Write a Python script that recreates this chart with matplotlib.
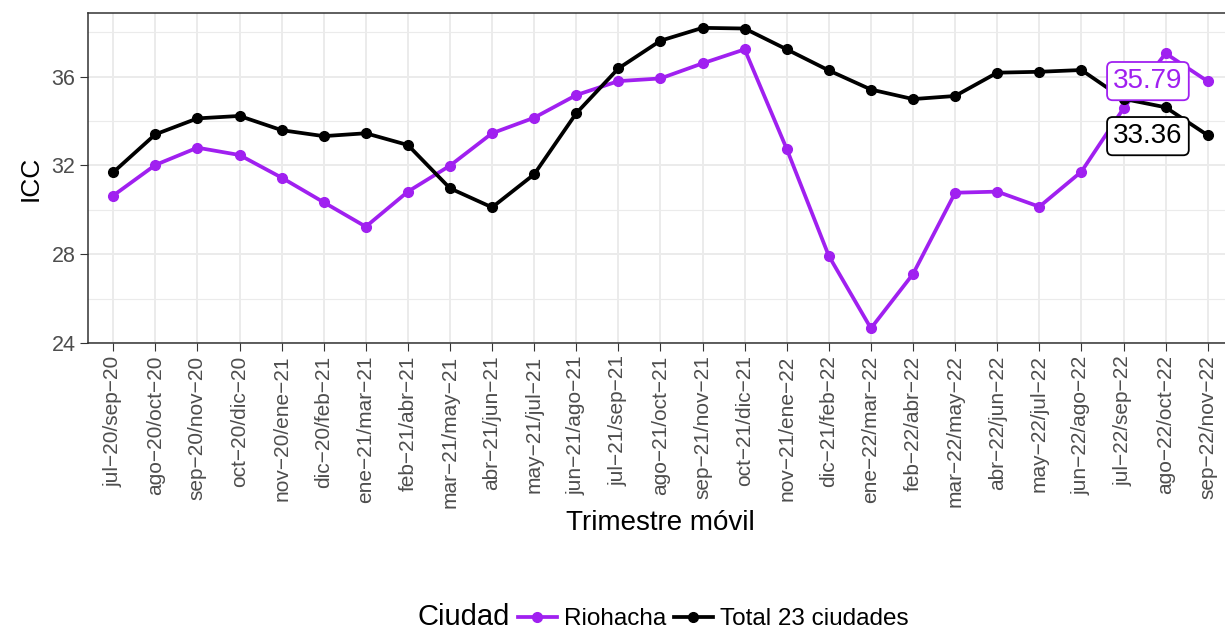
import matplotlib.pyplot as plt
from matplotlib.lines import Line2D

plt.rcParams['font.family'] = ['Liberation Sans', 'DejaVu Sans']

# rolling quarters
periodos = ['jul−20/sep−20', 'ago−20/oct−20', 'sep−20/nov−20', 'oct−20/dic−20',
            'nov−20/ene−21', 'dic−20/feb−21', 'ene−21/mar−21', 'feb−21/abr−21',
            'mar−21/may−21', 'abr−21/jun−21', 'may−21/jul−21', 'jun−21/ago−21',
            'jul−21/sep−21', 'ago−21/oct−21', 'sep−21/nov−21', 'oct−21/dic−21',
            'nov−21/ene−22', 'dic−21/feb−22', 'ene−22/mar−22', 'feb−22/abr−22',
            'mar−22/may−22', 'abr−22/jun−22', 'may−22/jul−22', 'jun−22/ago−22',
            'jul−22/sep−22', 'ago−22/oct−22', 'sep−22/nov−22']

riohacha = [30.64, 32.02, 32.80, 32.47, 31.45, 30.34, 29.24, 30.82, 31.99, 33.45,
            34.15, 35.17, 35.80, 35.92, 36.60, 37.23, 32.74, 27.92, 24.66, 27.11,
            30.77, 30.82, 30.14, 31.72, 34.57, 37.05, 35.79]
total = [31.69, 33.40, 34.12, 34.23, 33.59, 33.32, 33.45, 32.92, 30.97, 30.11,
         31.60, 34.35, 36.37, 37.62, 38.20, 38.17, 37.23, 36.28, 35.42, 34.99,
         35.13, 36.18, 36.22, 36.30, 35.00, 34.62, 33.36]

morado = '#A020F0'
x = list(range(len(periodos)))

fig = plt.figure(figsize=(12.25, 6.3), dpi=100)
ax = fig.add_axes([0.0718, 0.4556, 0.9347, 0.5238])

ax.plot(x, riohacha, color=morado, lw=2.7, marker='o', ms=7, zorder=3)
ax.plot(x, total, color='black', lw=2.7, marker='o', ms=7, zorder=3)

# end labels
ax.annotate(f'{riohacha[-1]:.2f}', xy=(x[-1], riohacha[-1]), xytext=(x[-1] - 1.42, 35.8),
            ha='center', va='center', fontsize=20, color=morado, zorder=5,
            bbox=dict(boxstyle='round,pad=0.22,rounding_size=0.2', fc='white', ec=morado, lw=1.3))
ax.annotate(f'{total[-1]:.2f}', xy=(x[-1], total[-1]), xytext=(x[-1] - 1.42, 33.32),
            ha='center', va='center', fontsize=20, color='black', zorder=5,
            bbox=dict(boxstyle='round,pad=0.22,rounding_size=0.2', fc='white', ec='black', lw=1.3))

ax.set_xlim(-0.6, len(periodos) - 0.4)
ax.set_ylim(24, 38.87)
ax.set_xticks(x)
ax.set_xticklabels(periodos, rotation=90, fontsize=15, color='#4D4D4D')
ax.set_yticks([24, 28, 32, 36])
ax.set_yticks([26, 30, 34, 38], minor=True)
ax.tick_params(axis='y', labelsize=15.5, labelcolor='#4D4D4D', color='#333333', length=5.5)
ax.tick_params(axis='y', which='minor', length=0)
ax.tick_params(axis='x', color='#333333', length=5.5)

ax.grid(True, which='major', color='#EBEBEB', lw=1.4)
ax.grid(True, which='minor', axis='y', color='#EBEBEB', lw=0.8)
ax.set_axisbelow(True)
for s in ax.spines.values():
    s.set_color('#333333')
    s.set_linewidth(1.1)

ax.set_xlabel('Trimestre móvil', fontsize=20, labelpad=2)
ax.set_ylabel('ICC', fontsize=19, labelpad=6)

handles = [Line2D([], [], color=morado, lw=2.7, marker='o', ms=7),
           Line2D([], [], color='black', lw=2.7, marker='o', ms=7)]
fig.text(0.341, 0.008, 'Ciudad', fontsize=21, va='baseline', ha='left')
fig.legend(handles, ['Riohacha', 'Total 23 ciudades'], loc='lower left',
           bbox_to_anchor=(0.405, -0.035), ncol=2, frameon=False, fontsize=17.5,
           handlelength=1.6, handletextpad=0.3, columnspacing=0.3)

fig.savefig('out.png', dpi=100)
